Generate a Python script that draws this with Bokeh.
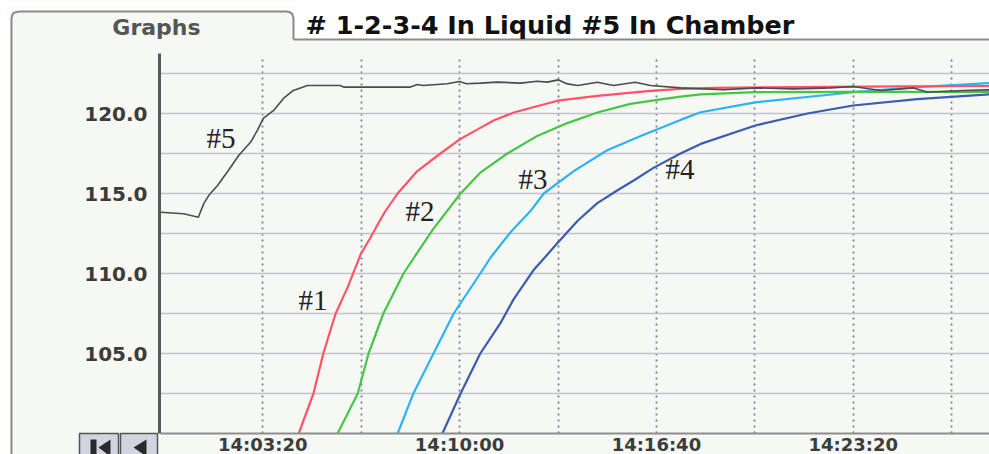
from bokeh.plotting import figure
from bokeh.models import Range1d, FixedTicker, Label, BoxAnnotation, PolyAnnotation
from bokeh.embed import file_html
from bokeh.resources import INLINE

# ---------------- data (time = seconds after 14:00:00) ----------------
title_text = "# 1-2-3-4 In Liquid #5 In Chamber"
tab_text = "Graphs"

x_tick_values = [200, 600, 1000, 1400]
x_tick_labels = ["14:03:20", "14:10:00", "14:16:40", "14:23:20"]
x_grid_values = [200, 400, 600, 800, 1000, 1200, 1400, 1600]

y_tick_values = [105, 110, 115, 120]
y_tick_labels = ["105.0", "110.0", "115.0", "120.0"]
y_grid_values = [102.5, 105, 107.5, 110, 112.5, 115, 117.5, 120, 122.5]

series_names = ["#1", "#2", "#3", "#4", "#5"]

t1 = [273, 303, 323, 348, 372, 399, 419, 446, 474, 514, 561, 601, 642, 669, 710,
      799, 880, 982, 1049, 1116, 1293, 1496, 1677]
y1 = [100.0, 102.5, 105.0, 107.5, 109.1, 111.2, 112.25, 113.75, 115.0, 116.4, 117.5,
      118.4, 119.1, 119.56, 120.06, 120.8, 121.1, 121.4, 121.54, 121.6, 121.65, 121.7, 121.72]

t2 = [352, 393, 415, 445, 486, 514, 547, 602, 642, 697, 758, 819, 880, 947, 1002,
      1049, 1090, 1201, 1400, 1677]
y2 = [100.0, 102.5, 105.0, 107.5, 110.0, 111.3, 112.8, 115.0, 116.3, 117.5, 118.6,
      119.4, 120.06, 120.6, 120.85, 121.06, 121.2, 121.33, 121.35, 121.35]

t3 = [474, 506, 547, 588, 642, 663, 703, 744, 771, 832, 900, 968, 1049, 1090, 1201,
      1400, 1530, 1677]
y3 = [100.0, 102.5, 105.0, 107.5, 110.0, 111.0, 112.56, 113.9, 115.0, 116.4, 117.7,
      118.6, 119.6, 120.08, 120.7, 121.33, 121.65, 121.9]

t4 = [565, 602, 642, 683, 710, 750, 799, 840, 880, 921, 953, 994, 1049, 1090, 1201,
      1307, 1400, 1530, 1677]
y4 = [100.0, 102.5, 105.0, 106.9, 108.4, 110.2, 111.9, 113.3, 114.4, 115.2, 115.8,
      116.6, 117.5, 118.1, 119.25, 120.0, 120.5, 120.9, 121.2]

t5 = [-8, 39, 69, 80, 90, 108, 130, 151, 175, 189, 201, 222, 242, 262, 291, 358, 364,
      480, 500, 514, 526, 575, 600, 614, 642, 677, 724, 758, 778, 801, 819, 840, 880,
      913, 957, 988, 1049, 1136, 1205, 1278, 1354, 1400, 1456, 1523, 1551, 1624, 1677]
y5 = [113.83, 113.73, 113.52, 114.37, 114.87, 115.5, 116.44, 117.37, 118.2, 118.94,
      119.69, 120.19, 120.94, 121.44, 121.75, 121.75, 121.65, 121.65, 121.65, 121.81,
      121.75, 121.86, 122.0, 121.86, 121.9, 121.96, 121.9, 122.02, 121.96, 122.1,
      121.85, 121.75, 121.95, 121.75, 121.95, 121.75, 121.6, 121.48, 121.6, 121.54,
      121.6, 121.69, 121.44, 121.6, 121.33, 121.44, 121.48]

# ---------------- layout helpers (pixel -> data) ----------------
W, H = 989, 454
PX_PER_S, X0_PX, X0_T = 0.492, 262.3, 200.0
PX_PER_U, Y0_PX, Y0_V = 16.0, 113.0, 120.0


def tx(px):
    return X0_T + (px - X0_PX) / PX_PER_S


def vy(py):
    return Y0_V - (py - Y0_PX) / PX_PER_U


PANEL = "#f6f8f3"
colors = ["#ff5468", "#46c646", "#2db3f3", "#3a5cb2", "#4c4c4c"]
widths = [2.2, 2.2, 2.2, 2.2, 1.6]

p = figure(width=W, height=H, output_backend="svg", toolbar_location=None, title=None,
           x_range=Range1d(tx(0), tx(W)), y_range=Range1d(vy(H), vy(0)),
           min_border_left=0, min_border_right=0, min_border_top=0, min_border_bottom=0)
p.background_fill_color = PANEL
p.border_fill_color = PANEL
p.outline_line_color = None


def pbox(l, r, t, b, fill, line=None, lw=1.0):
    p.add_layout(BoxAnnotation(left=tx(l), right=tx(r), top=vy(t), bottom=vy(b),
                               fill_color=fill, fill_alpha=1,
                               line_color=line if line else fill,
                               line_width=lw, line_alpha=1 if line else 0))


def ppoly(xs, ys, fill=None, line=None, lw=1.0):
    p.add_layout(PolyAnnotation(xs=[tx(v) for v in xs], ys=[vy(v) for v in ys],
                                fill_color=fill if fill else "white",
                                fill_alpha=1 if fill else 0,
                                line_color=line if line else "white",
                                line_alpha=1 if line else 0, line_width=lw))


# ---------------- axes & grids ----------------
p.xaxis.ticker = FixedTicker(ticks=x_tick_values)
p.xaxis.major_label_overrides = dict(zip(x_tick_values, x_tick_labels))
p.xaxis.fixed_location = 100
p.xaxis.bounds = (tx(160), tx(W))
p.xaxis.major_tick_in = 0
p.xaxis.major_tick_out = 0
p.xaxis.minor_tick_in = 0
p.xaxis.minor_tick_out = 0
p.xaxis.major_label_standoff = 0
p.xaxis.axis_line_color = "#8e8e8e"
p.xaxis.axis_line_width = 2
p.xaxis.major_label_text_font = "DejaVu Sans"
p.xaxis.major_label_text_font_style = "bold"
p.xaxis.major_label_text_font_size = "18px"
p.xaxis.major_label_text_color = "#3c3c3c"

p.yaxis.ticker = FixedTicker(ticks=y_tick_values)
p.yaxis.major_label_overrides = dict(zip(y_tick_values, y_tick_labels))
p.yaxis.fixed_location = tx(159)
p.yaxis.bounds = (100, vy(53))
p.yaxis.major_tick_in = 0
p.yaxis.major_tick_out = 0
p.yaxis.minor_tick_in = 0
p.yaxis.minor_tick_out = 0
p.yaxis.major_label_standoff = 12
p.yaxis.axis_line_color = "#5a5a5a"
p.yaxis.axis_line_width = 3
p.yaxis.major_label_text_font = "DejaVu Sans"
p.yaxis.major_label_text_font_style = "bold"
p.yaxis.major_label_text_font_size = "20px"
p.yaxis.major_label_text_color = "#3c3c3c"

xg = p.xgrid[0]
yg = p.ygrid[0]
xg.ticker = FixedTicker(ticks=x_grid_values)
xg.grid_line_color = "#7c7c9c"
xg.grid_line_width = 1.8
xg.grid_line_dash = "2 4"
yg.ticker = FixedTicker(ticks=y_grid_values)
yg.grid_line_color = "#c2c2d0"
yg.grid_line_width = 1.5
if "cross_bounds" in xg.properties():
    xg.cross_bounds = (100, vy(55))
    yg.cross_bounds = (tx(160), tx(W))

# ---------------- page decorations (tab, title bar, nav buttons) ----------------
pbox(0, 9, 0, H, "white")
pbox(0, W, 0, 11, "white")
pbox(293, W, 0, 38, "white")
pbox(293, W, 38, 40, "#8a8a8a")

out_x = [11, 11, 12, 14, 19, 286, 290, 292, 293, 293]
out_y = [H, 18, 14, 12, 11, 11, 12, 14, 18, 39]
ppoly(out_x + out_x[-2:0:-1], out_y + out_y[-2:0:-1], line="#8a8a8a", lw=2)

p.add_layout(Label(x=tx(156), y=vy(27), text=tab_text,
                   text_align="center", text_baseline="middle",
                   text_font="DejaVu Sans", text_font_style="bold",
                   text_font_size="22px", text_color="#555555"))
p.add_layout(Label(x=tx(305), y=vy(24), text=title_text,
                   text_align="left", text_baseline="middle",
                   text_font="DejaVu Sans", text_font_style="bold",
                   text_font_size="25.5px", text_color="#111111"))

pbox(79, 118, 433, H + 3, "#d4d4e0", "#555555", 1.5)
pbox(120, 157, 433, H + 3, "#d4d4e0", "#555555", 1.5)
pbox(90, 96, 439, H + 3, "#2a2a2a")
ppoly([98, 110, 110], [447, 439, H + 2], fill="#2a2a2a")
ppoly([133, 146, 146], [447, 439, H + 2], fill="#2a2a2a")

# ---------------- series ----------------
ts = [t1, t2, t3, t4, t5]
ys = [y1, y2, y3, y4, y5]
for i in [3, 2, 1, 0, 4]:
    p.line(ts[i], ys[i], line_color=colors[i], line_width=widths[i])

label_px = {"#5": (206, 137), "#1": (298, 299), "#2": (405, 210),
            "#3": (518, 178), "#4": (665, 168)}
for name in series_names:
    x, y = label_px[name]
    p.add_layout(Label(x=tx(x), y=vy(y), text=name, text_align="left",
                       text_baseline="middle", text_font="Liberation Serif",
                       text_font_size="29px", text_color="#222222"))

open("out.html", "w").write(file_html(p, INLINE))
